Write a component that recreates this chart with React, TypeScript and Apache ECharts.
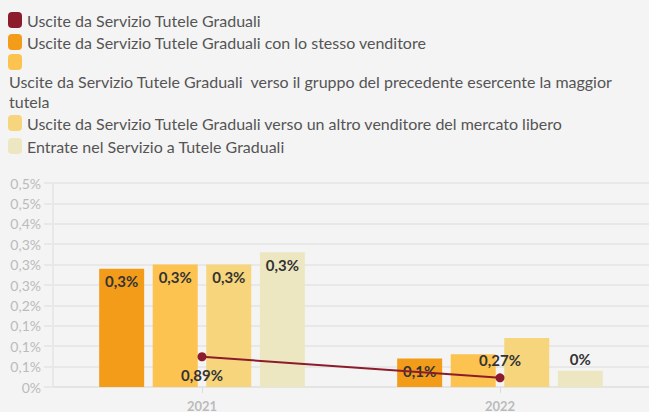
import React, { useEffect, useRef } from "react";
import * as echarts from "echarts";

const categories = ["2021", "2022"];
const seriesNames = [
  "Uscite da Servizio Tutele Graduali",
  "Uscite da Servizio Tutele Graduali con lo stesso venditore",
  "Uscite da Servizio Tutele Graduali  verso il gruppo del precedente esercente la maggior tutela",
  "Uscite da Servizio Tutele Graduali verso un altro venditore del mercato libero",
  "Entrate nel Servizio a Tutele Graduali",
];
const lineValues = [0.89, 0.27];
const sameSeller = [0.29, 0.07];
const sameGroup = [0.3, 0.08];
const otherSeller = [0.3, 0.12];
const entries = [0.33, 0.04];
const yTickLabels = ["0%", "0,1%", "0,1%", "0,1%", "0,2%", "0,3%", "0,3%", "0,3%", "0,4%", "0,5%", "0,5%"];
const colors = ["#8c1c2c", "#f39c1a", "#fcc350", "#f6d57c", "#ece7c0"];

const fmt1 = (v: number) => {
  const r = Math.round(v * 10) / 10;
  return r === 0 ? "0%" : r.toFixed(1).replace(".", ",") + "%";
};
const fmt2 = (v: number) => v.toFixed(2).replace(".", ",") + "%";

export default function App() {
  const ref = useRef<HTMLDivElement>(null);
  useEffect(() => {
    if (!ref.current) return;
    const chart = echarts.init(ref.current, null, { renderer: "svg" });
    const font = "Lato, 'Noto Sans', sans-serif";
    const labelBase = {
      show: true,
      color: "#333",
      fontWeight: "bold" as const,
      fontSize: 15,
      fontFamily: font,
    };
    const barSeries = (name: string, data: number[], color: string, labelCfg: any[]) => ({
      type: "bar",
      name,
      yAxisIndex: 0,
      barWidth: 45,
      barGap: "19%",
      itemStyle: { color },
      data: data.map((v, i) => ({ value: v, label: labelCfg[i] })),
      label: { ...labelBase, formatter: (p: any) => fmt1(p.value) },
    });
    const inside = { show: true, position: "insideTop", distance: 5 };
    const top = { show: true, position: "top", distance: 4 };
    const hide = { show: false };

    const legendRows = [
      { icon: 20, text: [{ y: 20, x: 27, s: seriesNames[0] }] },
      { icon: 42, text: [{ y: 42, x: 27, s: seriesNames[1] }] },
      {
        icon: 62,
        text: [
          { y: 81, x: 9, s: "Uscite da Servizio Tutele Graduali  verso il gruppo del precedente esercente la maggior" },
          { y: 101, x: 9, s: "tutela" },
        ],
      },
      { icon: 123, text: [{ y: 123, x: 27, s: seriesNames[3] }] },
      { icon: 146, text: [{ y: 146, x: 27, s: seriesNames[4] }] },
    ];
    const graphic: any[] = [];
    legendRows.forEach((row, i) => {
      graphic.push({
        type: "rect",
        left: 8,
        top: row.icon - 8,
        shape: { width: 14, height: 16, r: 4 },
        style: { fill: colors[i] },
      });
      row.text.forEach((t) => {
        graphic.push({
          type: "text",
          x: t.x,
          y: t.y,
          style: {
            text: t.s,
            fill: "#555",
            font: `16px ${font}`,
            textVerticalAlign: "middle",
            verticalAlign: "middle",
          },
        });
      });
    });

    chart.setOption({
      animation: false,
      backgroundColor: "#f4f4f4",
      textStyle: { fontFamily: font },
      grid: { left: 53, right: 0, top: 183, bottom: 22, containLabel: false },
      graphic,
      xAxis: {
        type: "category",
        data: categories,
        axisLine: { show: true, lineStyle: { color: "#e4e4e4", width: 2 } },
        axisTick: { show: true, alignWithLabel: true, length: 6, lineStyle: { color: "#dcdcdc" } },
        axisLabel: { color: "#bbb", fontWeight: "bold", fontSize: 13, margin: 12, fontFamily: font },
      },
      yAxis: [
        {
          type: "value",
          min: 0,
          max: 0.5,
          interval: 0.05,
          axisLine: { show: true, lineStyle: { color: "#e8e8e8", width: 2 } },
          axisTick: { show: true, length: 9, lineStyle: { color: "#e8e8e8", width: 2 } },
          splitLine: { show: true, lineStyle: { color: "#e8e8e8", width: 2 } },
          axisLabel: {
            color: "#bbb",
            fontSize: 14,
            margin: 12,
            fontFamily: font,
            formatter: (v: number) => yTickLabels[Math.round(v / 0.05)] ?? "",
          },
        },
        { type: "value", min: 0, max: 6, show: false, splitLine: { show: false } },
      ],
      series: [
        barSeries(seriesNames[1], sameSeller, colors[1], [inside, inside]),
        barSeries(seriesNames[2], sameGroup, colors[2], [inside, hide]),
        barSeries(seriesNames[3], otherSeller, colors[3], [inside, hide]),
        barSeries(seriesNames[4], entries, colors[4], [inside, top]),
        {
          type: "line",
          name: seriesNames[0],
          yAxisIndex: 1,
          z: 5,
          data: lineValues.map((v, i) => ({
            value: v,
            label: { position: i === 0 ? "bottom" : "top", distance: 6 },
          })),
          lineStyle: { color: colors[0], width: 2 },
          itemStyle: { color: colors[0] },
          symbol: "circle",
          symbolSize: 9,
          label: { ...labelBase, formatter: (p: any) => fmt2(p.value) },
        },
      ],
    });
    return () => chart.dispose();
  }, []);
  return <div ref={ref} style={{ width: 649, height: 412, position: "absolute", left: 0, top: 0 }} />;
}
